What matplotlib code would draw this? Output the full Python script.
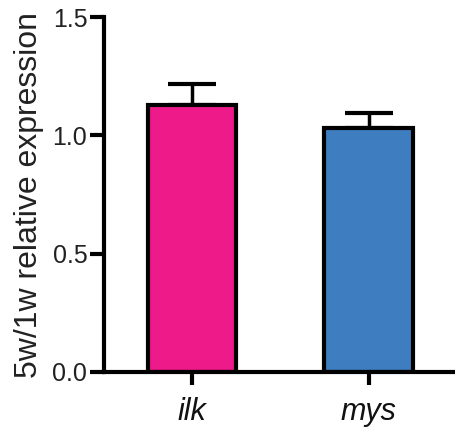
import matplotlib
matplotlib.use("Agg")
import matplotlib.pyplot as plt

plt.rcParams["font.family"] = ["Liberation Sans", "DejaVu Sans"]

genes = ["ilk", "mys"]
means = [1.127, 1.030]
errs = [0.089, 0.063]
colors = ["#EE1A8A", "#3E7EC0"]

fig = plt.figure(figsize=(4.55, 4.28), dpi=100)
ax = fig.add_axes([0.2286, 0.131, 0.7714, 0.829])

x = range(len(genes))
ax.bar(x, means, width=0.5, color=colors, edgecolor="black", linewidth=3, zorder=2)
ax.errorbar(x, means, yerr=[[0] * len(errs), errs], fmt="none", ecolor="black",
            elinewidth=2.5, capsize=17, capthick=3, zorder=1)

ax.set_xlim(-0.5, 1.49)
ax.set_ylim(0, 1.5)
ax.set_yticks([0.0, 0.5, 1.0, 1.5])
ax.set_yticklabels(["0.0", "0.5", "1.0", "1.5"], fontsize=18, color="#222222")
ax.set_xticks(list(x))
ax.set_xticklabels(genes, fontsize=22, style="italic", color="#111111")
ax.tick_params(axis="y", length=10, width=3, pad=2)
ax.tick_params(axis="x", length=9, width=3, pad=9)
ax.set_ylabel("5w/1w relative expression", fontsize=23, labelpad=6, color="#222222")

ax.spines[["top", "right"]].set_visible(False)
ax.spines["left"].set_linewidth(3)
ax.spines["bottom"].set_linewidth(3)
ax.spines["left"].set_bounds(0, 1.5)

fig.savefig("out.png", dpi=100, facecolor="white")
